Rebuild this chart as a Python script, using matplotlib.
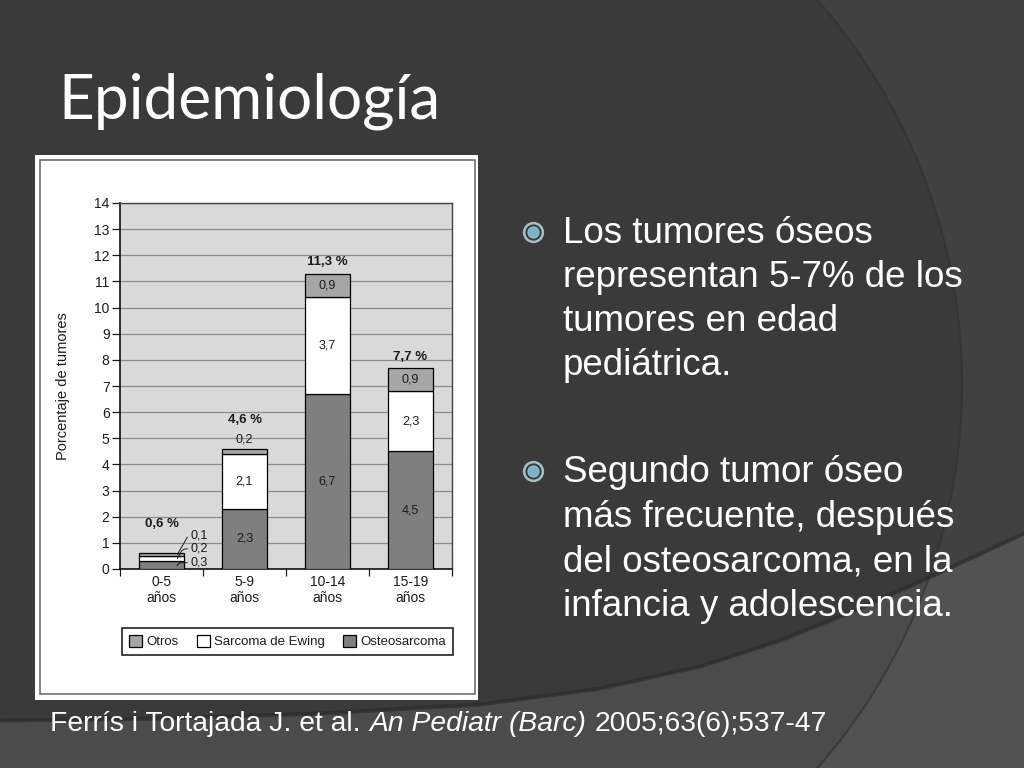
import matplotlib
matplotlib.use('Agg')
import matplotlib.pyplot as plt
import numpy as np
from matplotlib.patches import Rectangle, Polygon

# ---------------- data ----------------
categories = ['0-5\naños', '5-9\naños', '10-14\naños', '15-19\naños']
osteosarcoma = [0.3, 2.3, 6.7, 4.5]
ewing = [0.2, 2.1, 3.7, 2.3]
otros = [0.1, 0.2, 0.9, 0.9]
totals = [0.6, 4.6, 11.3, 7.7]
series_names = ['Otros', 'Sarcoma de Ewing', 'Osteosarcoma']
y_ticks = list(range(0, 15))
ylabel = 'Porcentaje de tumores'
title = 'Epidemiología'
bullets = [["Los tumores óseos", "representan 5-7% de los", "tumores en edad", "pediátrica."],
           ["Segundo tumor óseo", "más frecuente, después", "del osteosarcoma, en la", "infancia y adolescencia."]]
cite = ["Ferrís i Tortajada J. et al.", "An Pediatr (Barc)", "2005;63(6);537-47"]


def fmt(v):
    return f"{v:.1f}".replace('.', ',')


W, H = 1024, 768
fig = plt.figure(figsize=(10.24, 7.68), dpi=100)
plt.rcParams['font.family'] = ['Liberation Sans', 'DejaVu Sans']

# ---------------- slide background ----------------
bg = fig.add_axes([0, 0, 1, 1])
bg.set_xlim(0, W)
bg.set_ylim(H, 0)
bg.axis('off')
bg.add_patch(Rectangle((0, 0), W, H, color='#3a3a3a', zorder=0))

cx, cy, r = 380, 384, 582
ys = np.linspace(0, H, 200)
xs = cx + np.sqrt(r ** 2 - (ys - cy) ** 2)
right_pts = np.column_stack([xs, ys]).tolist() + [[W, H], [W, 0]]
bg.add_patch(Polygon(right_pts, closed=True, color='#414141', zorder=1))

lb = np.array([(0, 722), (160, 720), (320, 715), (480, 706), (600, 690), (700, 668),
               (780, 642), (860, 610), (940, 574), (1024, 535)])
band_pts = lb.tolist() + [[W, H], [0, H]]
band = Polygon(band_pts, closed=True, color='#4b4b4b', zorder=2)
bg.add_patch(band)
rp2 = Polygon(right_pts, closed=True, color='#525252', zorder=3)
bg.add_patch(rp2)
rp2.set_clip_path(band)
bg.plot(xs, ys, color='#2f2f2f', lw=1.6, alpha=0.6, zorder=4)
bg.plot(lb[:, 0], lb[:, 1] - 1.5, color='#2a2a2a', lw=3, alpha=0.6, zorder=4)

# chart image frame
bg.add_patch(Rectangle((35, 155), 443, 545, facecolor='white', edgecolor='none', zorder=5))
bg.add_patch(Rectangle((40, 160), 435, 534, fill=False, edgecolor='#6e6e6e', lw=1.2, zorder=6))

renderer = fig.canvas.get_renderer()

# title
t = bg.text(58, 118, title, color='white', fontsize=42, family=['Lato', 'DejaVu Sans'],
            ha='left', va='baseline', zorder=10)
w = t.get_window_extent(renderer).width
t.set_fontsize(42 * 382 / w)

# bullets
probe = bg.text(0, 0, bullets[0][1], fontsize=26)
bw_px = probe.get_window_extent(renderer).width
probe.remove()
bfs = 26 * 400 / bw_px
baselines = [[243, 287, 331, 375], [482, 527, 571, 616]]
for lines, bls in zip(bullets, baselines):
    for line, yb in zip(lines, bls):
        bg.text(563, yb, line, color='white', fontsize=bfs, ha='left', va='baseline', zorder=10)
    bg.plot([533], [bls[0] - 11], marker='o', ms=13.5, mfc='none', mec='#a9bfc6', mew=1.8, zorder=10)
    bg.plot([533], [bls[0] - 11], marker='o', ms=8, mfc='#79b3c7', mec='#8fc0d0', mew=0.8, zorder=11)

# citation
fs0 = 16
pieces = []
styles = ['normal', 'italic', 'normal']
for txt, st in zip(cite, styles):
    pieces.append(bg.text(0, 731, txt, fontsize=fs0, style=st, color='white',
                          ha='left', va='baseline', zorder=10))
widths = [p.get_window_extent(renderer).width for p in pieces]
gap0 = 0.278 * fs0 * 100 / 72
scale = 778 / (sum(widths) + 2 * gap0)
fs = fs0 * scale
xpos = 50
for p, wd in zip(pieces, widths):
    p.set_fontsize(fs)
    p.set_x(xpos)
    xpos += wd * scale + gap0 * scale

# ---------------- chart ----------------
tc = '#1c1c1c'
ax = fig.add_axes([120 / W, 1 - 569 / H, 332 / W, 366 / H], zorder=20)
ax.set_facecolor('#d9d9d9')
x = np.arange(len(categories))
bw = 0.54
colors = {'Otros': '#a6a6a6', 'Sarcoma de Ewing': 'white', 'Osteosarcoma': '#7f7f7f'}
ax.bar(x, osteosarcoma, bw, color=colors['Osteosarcoma'], edgecolor='black', lw=0.9, zorder=3)
ax.bar(x, ewing, bw, bottom=osteosarcoma, color=colors['Sarcoma de Ewing'], edgecolor='black', lw=0.9, zorder=3)
bot3 = [a + b for a, b in zip(osteosarcoma, ewing)]
ax.bar(x, otros, bw, bottom=bot3, color=colors['Otros'], edgecolor='black', lw=0.9, zorder=3)

ax.set_xlim(-0.5, 3.5)
ax.set_ylim(0, 14)
ax.set_yticks(y_ticks)
ax.yaxis.grid(True, color='#8c8c8c', lw=0.9)
ax.set_axisbelow(True)
ax.tick_params(axis='y', direction='out', length=6, width=0.9, labelsize=10, pad=1.5, colors=tc)
ax.set_xticks(x)
ax.set_xticklabels(categories, fontsize=10, color=tc, linespacing=1.2)
ax.tick_params(axis='x', which='major', length=0, pad=4)
ax.set_xticks(np.arange(-0.5, 4, 1), minor=True)
ax.tick_params(axis='x', which='minor', length=5, width=0.9, direction='out', color=tc)
for s in ['left', 'bottom']:
    ax.spines[s].set_color('#111')
    ax.spines[s].set_linewidth(1.2)
for s in ['top', 'right']:
    ax.spines[s].set_color('#444')
    ax.spines[s].set_linewidth(1.0)
ax.set_ylabel(ylabel, fontsize=10.5, color=tc)
ax.yaxis.set_label_coords(-0.15, 0.5)

# segment labels
segs = [osteosarcoma, ewing, otros]
bottoms = [[0] * 4, osteosarcoma, bot3]
leader_y = [0.24, 0.77, 1.30]
for i in range(len(categories)):
    if totals[i] < 1:
        for k, (seg, bt) in enumerate(zip(segs, bottoms)):
            ax.annotate(fmt(seg[i]), xy=(i + 0.19, bt[i] + seg[i] / 2),
                        xytext=(i + 0.345, leader_y[k]), fontsize=9, color=tc,
                        ha='left', va='center',
                        arrowprops=dict(arrowstyle='-', lw=0.7, color=tc, shrinkA=0, shrinkB=0,
                                        connectionstyle='angle,angleA=0,angleB=60,rad=3'))
        extra = True
    else:
        extra = False
        for seg, bt in zip(segs, bottoms):
            if seg[i] >= 0.5:
                ax.text(i, bt[i] + seg[i] / 2, fmt(seg[i]), ha='center', va='center', fontsize=9, color=tc, zorder=5)
            else:
                ax.annotate(fmt(seg[i]), xy=(i, totals[i]), xytext=(0, 7), textcoords='offset points',
                            ha='center', va='center', fontsize=9, color=tc)
                extra = True
    ax.annotate(fmt(totals[i]) + ' %', xy=(i, totals[i]), xytext=(0, 21 if extra else 8),
                textcoords='offset points', ha='center', va='center', fontsize=9.5,
                fontweight='bold', color=tc)

# legend
handles = [Rectangle((0, 0), 1, 1, facecolor=colors[n], edgecolor='black', lw=0.9) for n in series_names]
leg = fig.legend(handles, series_names, loc='center', ncol=3, mode='expand',
                 bbox_to_anchor=(122 / W, 1 - 658 / H, 331 / W, 33 / H),
                 fontsize=9.5, frameon=True, fancybox=False, framealpha=1,
                 edgecolor='#222', handlelength=1.0, handleheight=1.0, handletextpad=0.3,
                 borderpad=0.55, borderaxespad=0)
leg.get_frame().set_linewidth(1.2)
for txt in leg.get_texts():
    txt.set_color(tc)
leg.set_zorder(30)

fig.savefig('out.png', dpi=100)
